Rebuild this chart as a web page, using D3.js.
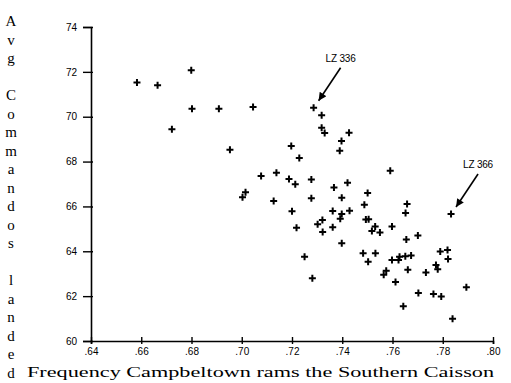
<!DOCTYPE html>
<html>
<head>
<meta charset="utf-8">
<script src="https://cdn.jsdelivr.net/npm/d3@7"></script>
<style>
  body { margin: 0; background: #fff; }
  svg { display: block; }
</style>
</head>
<body>
<div id="chart"></div>
<script>
// frequency Campbeltown rams the Southern Caisson (x) vs avg commandos landed (y)
var freq = [
  0.6583, 0.6665, 0.6799, 0.6802, 0.6909, 0.7045, 0.6722, 0.6953, 0.7286, 0.7318,
  0.7318, 0.7330, 0.7197, 0.7229, 0.7077, 0.7138, 0.7188, 0.7277, 0.7427, 0.7397,
  0.7390, 0.7213, 0.7367, 0.7421, 0.7015, 0.7003, 0.7127, 0.7277, 0.7398, 0.7501,
  0.7488, 0.7200, 0.7362, 0.7398, 0.7429, 0.7392, 0.7494, 0.7505, 0.7321, 0.7302,
  0.7218, 0.7362, 0.7322, 0.7531, 0.7518, 0.7550, 0.7398, 0.7483, 0.7532, 0.7503,
  0.7250, 0.7281, 0.7591, 0.7658, 0.7652, 0.7833, 0.7598, 0.7655, 0.7701, 0.7598,
  0.7624, 0.7628, 0.7651, 0.7674, 0.7790, 0.7819, 0.7821, 0.7661, 0.7575, 0.7565,
  0.7733, 0.7773, 0.7780, 0.7612, 0.7703, 0.7763, 0.7794, 0.7894, 0.7643, 0.7839
];
var landed = [
  71.53, 71.40, 72.07, 70.36, 70.36, 70.43, 69.44, 68.53, 70.40, 70.06,
  69.51, 69.27, 68.69, 68.16, 67.36, 67.50, 67.22, 67.20, 69.29, 68.92,
  68.48, 66.99, 66.84, 67.06, 66.63, 66.41, 66.24, 66.36, 66.39, 66.60,
  66.08, 65.78, 65.80, 65.66, 65.81, 65.45, 65.42, 65.43, 65.39, 65.20,
  65.05, 65.07, 64.86, 65.10, 64.91, 64.84, 64.36, 63.91, 63.91, 63.53,
  63.76, 62.80, 67.59, 66.11, 65.71, 65.66, 65.10, 64.53, 64.70, 63.61,
  63.61, 63.76, 63.78, 63.81, 63.99, 64.06, 63.66, 63.18, 63.13, 62.95,
  63.05, 63.39, 63.20, 62.63, 62.14, 62.10, 61.98, 62.40, 61.55, 60.99
];
var xTicks = [0.64, 0.66, 0.68, 0.70, 0.72, 0.74, 0.76, 0.78, 0.80];
var yTicks = [60, 62, 64, 66, 68, 70, 72, 74];
var labelNames = ["LZ 336", "LZ 366"];
var labelPoints = [8, 55];  // index into freq / landed

var yTitle = "Avg Commandos landed";
var xTitle = "Frequency Campbeltown rams the Southern Caisson";

var width = 511, height = 383;
var margin = { top: 27, right: 18, bottom: 42, left: 91 };

var svg = d3.select("#chart").append("svg")
  .attr("width", width)
  .attr("height", height);

var x = d3.scaleLinear().domain([0.64, 0.80]).range([margin.left, width - margin.right]);
var y = d3.scaleLinear().domain([60, 74]).range([height - margin.bottom, margin.top]);

var serif = "'Liberation Serif', 'DejaVu Serif', serif";
var sans = "'Liberation Sans', Arial, sans-serif";

// y axis
var yAxis = svg.append("g")
  .attr("transform", "translate(" + x(0.64) + ",0)")
  .call(d3.axisLeft(y).tickValues(yTicks).tickSize(8).tickPadding(6).tickFormat(d3.format("d")));

// x axis
var xAxis = svg.append("g")
  .attr("transform", "translate(0," + y(60) + ")")
  .call(d3.axisBottom(x).tickValues(xTicks).tickSize(3).tickPadding(4)
    .tickFormat(function (d) { return d3.format(".2f")(d).slice(1); }));

[yAxis, xAxis].forEach(function (ax) {
  ax.select(".domain").attr("stroke", "#000").attr("stroke-width", 1.6);
  ax.selectAll(".tick line").attr("stroke", "#000").attr("stroke-width", 1.4);
  ax.selectAll(".tick text").attr("fill", "#000")
    .style("font-family", sans).style("font-size", "10px");
});
// ticks poke through the axis a little
yAxis.selectAll(".tick").append("line").attr("x1", 0).attr("x2", 2)
  .attr("stroke", "#000").attr("stroke-width", 1.4);
xAxis.selectAll(".tick").append("line").attr("y1", 0).attr("y2", -4)
  .attr("stroke", "#000").attr("stroke-width", 1.4);

// points as bold plus signs
svg.append("g").selectAll("path")
  .data(d3.range(freq.length))
  .join("path")
  .attr("transform", function (i) { return "translate(" + x(freq[i]) + "," + y(landed[i]) + ")"; })
  .attr("d", "M-3.5,0H3.5M0,-3.5V3.5")
  .attr("stroke", "#000")
  .attr("stroke-width", 2);

// annotations
svg.append("defs").append("marker")
  .attr("id", "head")
  .attr("viewBox", "0 0 10 10")
  .attr("refX", 10).attr("refY", 5)
  .attr("markerWidth", 11).attr("markerHeight", 8)
  .attr("markerUnits", "userSpaceOnUse")
  .attr("orient", "auto")
  .append("path").attr("d", "M0,0L10,5L0,10z").attr("fill", "#000");

var notes = svg.append("g");
labelPoints.forEach(function (p, k) {
  var px = x(freq[p]), py = y(landed[p]);
  notes.append("line")
    .attr("x1", px + 27).attr("y1", py - 40)
    .attr("x2", px + 5).attr("y2", py - 7)
    .attr("stroke", "#000").attr("stroke-width", 1.6)
    .attr("marker-end", "url(#head)");
  notes.append("text")
    .attr("x", px + 12).attr("y", py - 46)
    .attr("font-family", sans).attr("font-size", "10px")
    .attr("letter-spacing", "-0.2px")
    .text(labelNames[k]);
});

// stacked y title, one letter per line
svg.append("g").selectAll("text")
  .data(yTitle.split(""))
  .join("text")
  .attr("x", 11)
  .attr("y", function (d, i) { return 26 + i * 18.5; })
  .attr("text-anchor", "middle")
  .attr("font-family", serif)
  .attr("font-size", "15px")
  .text(function (d) { return d; });

// x title
svg.append("text")
  .attr("x", 27)
  .attr("y", 377)
  .attr("font-family", serif)
  .attr("font-size", "15px")
  .attr("textLength", 467)
  .attr("lengthAdjust", "spacingAndGlyphs")
  .text(xTitle);
</script>
</body>
</html>
